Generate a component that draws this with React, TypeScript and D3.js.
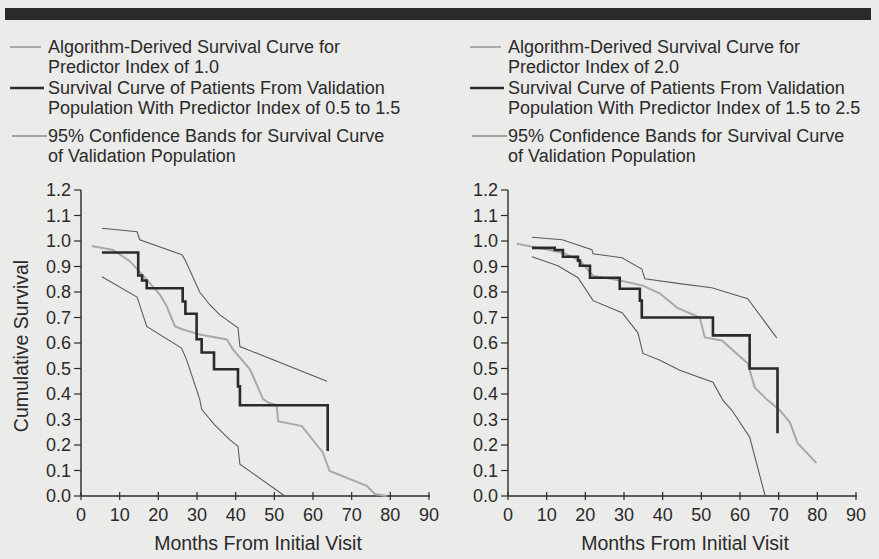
import React, { useEffect, useRef } from 'react';
import * as d3 from 'd3';

type Pt = [number, number];

const xTicks = [0, 10, 20, 30, 40, 50, 60, 70, 80, 90];
const yTicks = [0, 0.1, 0.2, 0.3, 0.4, 0.5, 0.6, 0.7, 0.8, 0.9, 1.0, 1.1, 1.2];

// left panel (predictor index 1.0)
const leftAlgorithm: Pt[] = [
  [2.8, 0.98], [8.3, 0.965], [12.7, 0.92], [17.8, 0.835], [20.4, 0.79], [22.2, 0.743],
  [24.3, 0.665], [26.4, 0.653], [30.7, 0.633], [37.7, 0.614], [39.3, 0.575], [43.7, 0.497],
  [47.1, 0.38], [48, 0.37], [50.6, 0.355], [51, 0.293], [57.1, 0.274], [62.5, 0.172],
  [64.3, 0.098], [73.9, 0.04], [76, 0.008], [79, 0],
];
const leftKM: Pt[] = [
  [5.4, 0.955], [14.8, 0.865], [15.8, 0.845], [17, 0.815], [26.3, 0.763], [27, 0.715],
  [29.9, 0.615], [31.2, 0.563], [34.4, 0.497], [40.6, 0.43], [41.1, 0.356], [63.8, 0.176],
];
const leftUpper: Pt[] = [
  [5.4, 1.05], [14.5, 1.036], [15.2, 1.005], [26.1, 0.946], [26.9, 0.926], [30.7, 0.8],
  [33.3, 0.75], [35.9, 0.71], [40.6, 0.66], [41.1, 0.586], [63.6, 0.45],
];
const leftLower: Pt[] = [
  [5.4, 0.86], [14.5, 0.78], [15.8, 0.72], [17, 0.665], [26, 0.58], [27.3, 0.535],
  [30.7, 0.38], [31.2, 0.34], [34.5, 0.28], [38.5, 0.22], [40.6, 0.195], [41.1, 0.125],
  [52.7, 0],
];

// right panel (predictor index 2.0)
const rightAlgorithm: Pt[] = [
  [2.3, 0.989], [7.8, 0.973], [14.2, 0.954], [18.6, 0.923], [22, 0.864], [28.9, 0.845],
  [34.9, 0.825], [39.3, 0.794], [43.7, 0.739], [49.6, 0.7], [50.9, 0.622], [55.3, 0.61],
  [62, 0.52], [63.8, 0.426], [67.2, 0.375], [70.3, 0.336], [72.9, 0.289], [74.9, 0.207],
  [79.8, 0.129],
];
const rightKM: Pt[] = [
  [6.2, 0.973], [12.1, 0.965], [14.2, 0.938], [18.1, 0.923], [18.6, 0.903], [21.2, 0.856],
  [28.9, 0.813], [34.1, 0.766], [34.6, 0.7], [53, 0.63], [62.5, 0.5], [69.7, 0.246],
];
const rightUpper: Pt[] = [
  [6.2, 1.015], [14, 1.005], [21.7, 0.966], [22, 0.95], [29.5, 0.934], [34.6, 0.89],
  [35.4, 0.852], [44.4, 0.833], [52.7, 0.817], [62, 0.774], [69.5, 0.62],
];
const rightLower: Pt[] = [
  [6.2, 0.938], [12.9, 0.903], [18.1, 0.856], [22, 0.766], [29.5, 0.719], [33.6, 0.64],
  [34.9, 0.559], [39.3, 0.532], [44.4, 0.493], [53, 0.446], [55.6, 0.375], [57.9, 0.336],
  [62.5, 0.231], [66.5, 0],
];

const leftLegend = [
  ['Algorithm-Derived Survival Curve for', 'Predictor Index of 1.0'],
  ['Survival Curve of Patients From Validation', 'Population With Predictor Index of 0.5 to 1.5'],
  ['95% Confidence Bands for Survival Curve', 'of Validation Population'],
];
const rightLegend = [
  ['Algorithm-Derived Survival Curve for', 'Predictor Index of 2.0'],
  ['Survival Curve of Patients From Validation', 'Population With Predictor Index of 1.5 to 2.5'],
  ['95% Confidence Bands for Survival Curve', 'of Validation Population'],
];

const FONT = '"Liberation Sans", Arial, Helvetica, sans-serif';
const INK = '#2a2a2a';
const GRAY = '#a9a9a9';
const BAND = '#5c5c5c';

interface PanelDef {
  x0: number;
  x1: number;
  algorithm: Pt[];
  km: Pt[];
  upper: Pt[];
  lower: Pt[];
  legend: string[][];
  legendX: number;
  yTitle: boolean;
}

const panels: PanelDef[] = [
  { x0: 81, x1: 429, algorithm: leftAlgorithm, km: leftKM, upper: leftUpper, lower: leftLower, legend: leftLegend, legendX: 10, yTitle: true },
  { x0: 508, x1: 856, algorithm: rightAlgorithm, km: rightKM, upper: rightUpper, lower: rightLower, legend: rightLegend, legendX: 470, yTitle: false },
];

const App: React.FC = () => {
  const svgRef = useRef<SVGSVGElement>(null);

  useEffect(() => {
    if (!svgRef.current) return;
    const svg = d3.select(svgRef.current);
    svg.selectAll('*').remove();

    svg.append('rect').attr('width', 879).attr('height', 559).attr('fill', '#ebebe9');

    // heavy rule at the top
    svg.append('rect').attr('x', 5).attr('y', 8).attr('width', 866).attr('height', 12).attr('fill', INK);

    panels.forEach((p) => {
      const x = d3.scaleLinear().domain([0, 90]).range([p.x0, p.x1]);
      const y = d3.scaleLinear().domain([0, 1.2]).range([496, 190]);
      const g = svg.append('g');

      // legend
      const lx = p.legendX;
      const tx = lx + 38;
      const rows = [
        { y: 53, color: GRAY, w: 2, len: 31 },
        { y: 94, color: INK, w: 2.6, len: 34 },
        { y: 142, color: BAND, w: 1.1, len: 35 },
      ];
      rows.forEach((r, i) => {
        g.append('line')
          .attr('x1', lx + (i === 2 ? 2 : 0)).attr('x2', lx + (i === 2 ? 2 : 0) + r.len)
          .attr('y1', r.y - 6).attr('y2', r.y - 6)
          .attr('stroke', r.color).attr('stroke-width', r.w);
        p.legend[i].forEach((line, j) => {
          g.append('text')
            .attr('x', tx + (i === 2 && j === 0 ? 0 : 0)).attr('y', r.y + j * 19.5)
            .attr('font-family', FONT).attr('font-size', 18).attr('fill', INK)
            .text(line);
        });
      });

      // axes
      g.append('line').attr('x1', p.x0).attr('x2', p.x0).attr('y1', y(1.2)).attr('y2', y(0))
        .attr('stroke', INK).attr('stroke-width', 1.4);
      g.append('line').attr('x1', p.x0).attr('x2', p.x1 + 1).attr('y1', y(0)).attr('y2', y(0))
        .attr('stroke', INK).attr('stroke-width', 1.4);

      yTicks.forEach((t) => {
        g.append('line').attr('x1', p.x0 - 7).attr('x2', p.x0).attr('y1', y(t)).attr('y2', y(t))
          .attr('stroke', INK).attr('stroke-width', 1.2);
        g.append('text')
          .attr('x', p.x0 - 10).attr('y', y(t)).attr('dy', '0.36em')
          .attr('text-anchor', 'end')
          .attr('font-family', FONT).attr('font-size', 18).attr('fill', INK)
          .text(d3.format('.1f')(t));
      });
      xTicks.forEach((t) => {
        g.append('line').attr('x1', x(t)).attr('x2', x(t)).attr('y1', y(0) - 4).attr('y2', y(0) + 4)
          .attr('stroke', INK).attr('stroke-width', 1.2);
        g.append('text')
          .attr('x', x(t)).attr('y', 515).attr('dy', '0.36em')
          .attr('text-anchor', 'middle')
          .attr('font-family', FONT).attr('font-size', 18).attr('fill', INK)
          .text(String(t));
      });

      g.append('text')
        .attr('x', (p.x0 + p.x1) / 2 + 3).attr('y', 543).attr('dy', '0.36em')
        .attr('text-anchor', 'middle')
        .attr('font-family', FONT).attr('font-size', 19.5).attr('fill', INK)
        .text('Months From Initial Visit');

      if (p.yTitle) {
        g.append('text')
          .attr('transform', 'translate(21,346) rotate(-90)')
          .attr('dy', '0.36em')
          .attr('text-anchor', 'middle')
          .attr('font-family', FONT).attr('font-size', 19.5).attr('fill', INK)
          .text('Cumulative Survival');
      }

      const lin = d3.line<Pt>().x((d) => x(d[0])).y((d) => y(d[1]));
      const step = d3.line<Pt>().x((d) => x(d[0])).y((d) => y(d[1])).curve(d3.curveStepAfter);

      g.append('path').attr('d', lin(p.upper)).attr('fill', 'none')
        .attr('stroke', BAND).attr('stroke-width', 1.1);
      g.append('path').attr('d', lin(p.lower)).attr('fill', 'none')
        .attr('stroke', BAND).attr('stroke-width', 1.1);
      g.append('path').attr('d', lin(p.algorithm)).attr('fill', 'none')
        .attr('stroke', GRAY).attr('stroke-width', 2);
      g.append('path').attr('d', step(p.km)).attr('fill', 'none')
        .attr('stroke', INK).attr('stroke-width', 2.6);
    });
  }, []);

  return (
    <svg
      ref={svgRef}
      width={879}
      height={559}
      style={{ position: 'absolute', left: 0, top: 0, display: 'block' }}
    />
  );
};

export default App;
